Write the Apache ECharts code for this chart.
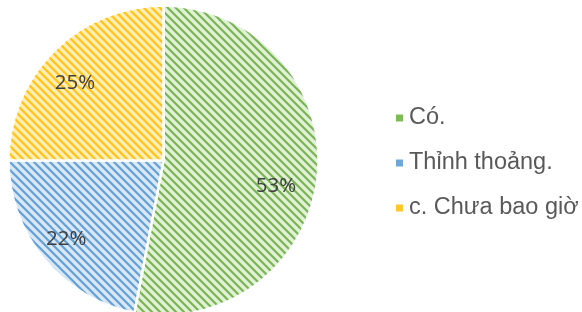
<!DOCTYPE html>
<html>
<head>
<meta charset="utf-8">
<script src="https://cdn.jsdelivr.net/npm/echarts@6/dist/echarts.min.js"></script>
<style>
html,body{margin:0;padding:0;background:#fff;}
#c{width:582px;height:312px;}
</style>
</head>
<body>
<div id="c"></div>
<script>
var categories = ['Có.', 'Thỉnh thoảng.', 'c. Chưa bao giờ'];
var values = [53, 22, 25];
var fgColors = ['#78b552', '#62a0d8', '#ffc310'];
var bgColors = ['#e1f0d7', '#dae8f6', '#ffedb8'];
var legendColors = ['#7dbb55', '#6fa7da', '#ffc72a'];

function makePattern(fg, bg) {
  var s = 8;
  var cv = document.createElement('canvas');
  cv.width = s; cv.height = s;
  var ctx = cv.getContext('2d');
  ctx.fillStyle = bg;
  ctx.fillRect(0, 0, s, s);
  ctx.strokeStyle = fg;
  ctx.lineWidth = 2.2;
  ctx.beginPath();
  ctx.moveTo(-s, -s); ctx.lineTo(2 * s, 2 * s);
  ctx.moveTo(-s, 0); ctx.lineTo(s, 2 * s);
  ctx.moveTo(0, -s); ctx.lineTo(2 * s, s);
  ctx.stroke();
  return cv;
}

var labelShift = [[-8, 14], [-4, 2], [-3, 8]];

var chart = echarts.init(document.getElementById('c'));
var mainData = categories.map(function (n, i) {
  return {
    name: n,
    value: values[i],
    itemStyle: { color: { image: makePattern(fgColors[i], bgColors[i]), repeat: 'repeat' } }
  };
});
var labelData = categories.map(function (n, i) {
  return { name: n, value: values[i] };
});
var legendData = categories.map(function (n, i) {
  return { name: n, itemStyle: { color: legendColors[i] } };
});

chart.setOption({
  animation: false,
  legend: {
    orient: 'vertical',
    left: 389,
    top: 101,
    data: legendData,
    icon: 'rect',
    itemWidth: 9,
    itemHeight: 9,
    itemGap: 21,
    itemTextGap: 9,
    textStyle: { fontFamily: 'Liberation Sans, Arial, sans-serif', fontSize: 23.5, color: '#595959', lineHeight: 23 }
  },
  series: [
    {
      type: 'pie',
      center: [163.5, 160.5],
      radius: [0, 155],
      startAngle: 90,
      clockwise: true,
      label: { show: false },
      labelLine: { show: false },
      emphasis: { disabled: true },
      itemStyle: { borderColor: '#ffffff', borderWidth: 2.5 },
      data: mainData
    },
    {
      type: 'pie',
      silent: true,
      center: [163.5, 160.5],
      radius: [86, 150],
      startAngle: 90,
      clockwise: true,
      itemStyle: { color: 'rgba(0,0,0,0)' },
      label: {
        show: true,
        position: 'inside',
        formatter: '{c}%',
        fontFamily: 'Open Sans, sans-serif',
        fontSize: 20.5,
        color: '#404040'
      },
      labelLayout: function (p) {
        var d = labelShift[p.dataIndex] || [0, 0];
        return { dx: d[0], dy: d[1] };
      },
      labelLine: { show: false },
      emphasis: { disabled: true },
      data: labelData
    }
  ]
});
</script>
</body>
</html>
